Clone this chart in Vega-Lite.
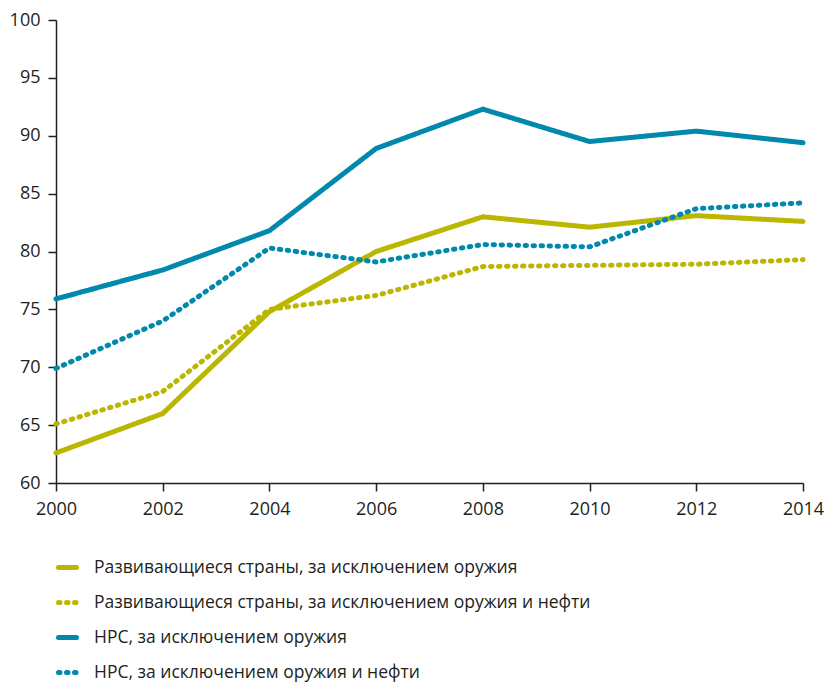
{
  "$schema": "https://vega.github.io/schema/vega-lite/v6.json",
  "autosize": "none",
  "width": 747,
  "height": 463,
  "padding": {"left": 56, "top": 20, "right": 21, "bottom": 199},
  "background": "white",
  "config": {
    "view": {"stroke": null},
    "font": "Open Sans",
    "axis": {"domainColor": "#231f20", "tickColor": "#231f20", "labelColor": "#231f20", "labelFont": "Open Sans", "labelFontSize": 18, "grid": false, "domainWidth": 1.5, "tickWidth": 1.5}
  },
  "data": {
    "values": [
      {"year": 2000, "series": "Развивающиеся страны, за исключением оружия", "value": 62.6},
      {"year": 2002, "series": "Развивающиеся страны, за исключением оружия", "value": 66.0},
      {"year": 2004, "series": "Развивающиеся страны, за исключением оружия", "value": 74.8},
      {"year": 2006, "series": "Развивающиеся страны, за исключением оружия", "value": 80.0},
      {"year": 2008, "series": "Развивающиеся страны, за исключением оружия", "value": 83.0},
      {"year": 2010, "series": "Развивающиеся страны, за исключением оружия", "value": 82.1},
      {"year": 2012, "series": "Развивающиеся страны, за исключением оружия", "value": 83.1},
      {"year": 2014, "series": "Развивающиеся страны, за исключением оружия", "value": 82.6},
      {"year": 2000, "series": "Развивающиеся страны, за исключением оружия и нефти", "value": 65.1},
      {"year": 2002, "series": "Развивающиеся страны, за исключением оружия и нефти", "value": 67.9},
      {"year": 2004, "series": "Развивающиеся страны, за исключением оружия и нефти", "value": 75.0},
      {"year": 2006, "series": "Развивающиеся страны, за исключением оружия и нефти", "value": 76.2},
      {"year": 2008, "series": "Развивающиеся страны, за исключением оружия и нефти", "value": 78.7},
      {"year": 2010, "series": "Развивающиеся страны, за исключением оружия и нефти", "value": 78.8},
      {"year": 2012, "series": "Развивающиеся страны, за исключением оружия и нефти", "value": 78.9},
      {"year": 2014, "series": "Развивающиеся страны, за исключением оружия и нефти", "value": 79.3},
      {"year": 2000, "series": "НРС, за исключением оружия", "value": 75.9},
      {"year": 2002, "series": "НРС, за исключением оружия", "value": 78.4},
      {"year": 2004, "series": "НРС, за исключением оружия", "value": 81.8},
      {"year": 2006, "series": "НРС, за исключением оружия", "value": 88.9},
      {"year": 2008, "series": "НРС, за исключением оружия", "value": 92.3},
      {"year": 2010, "series": "НРС, за исключением оружия", "value": 89.5},
      {"year": 2012, "series": "НРС, за исключением оружия", "value": 90.4},
      {"year": 2014, "series": "НРС, за исключением оружия", "value": 89.4},
      {"year": 2000, "series": "НРС, за исключением оружия и нефти", "value": 69.9},
      {"year": 2002, "series": "НРС, за исключением оружия и нефти", "value": 74.0},
      {"year": 2004, "series": "НРС, за исключением оружия и нефти", "value": 80.3},
      {"year": 2006, "series": "НРС, за исключением оружия и нефти", "value": 79.1},
      {"year": 2008, "series": "НРС, за исключением оружия и нефти", "value": 80.6},
      {"year": 2010, "series": "НРС, за исключением оружия и нефти", "value": 80.4},
      {"year": 2012, "series": "НРС, за исключением оружия и нефти", "value": 83.7},
      {"year": 2014, "series": "НРС, за исключением оружия и нефти", "value": 84.2}
    ]
  },
  "mark": {"type": "line", "strokeWidth": 5, "strokeCap": "round", "strokeJoin": "round"},
  "encoding": {
    "x": {
      "field": "year", "type": "quantitative",
      "scale": {"domain": [2000, 2014], "nice": false, "zero": false},
      "axis": {"title": null, "values": [2000, 2002, 2004, 2006, 2008, 2010, 2012, 2014], "format": "d", "tickSize": 8, "labelPadding": 9, "labelFlush": false, "labelOverlap": false}
    },
    "y": {
      "field": "value", "type": "quantitative",
      "scale": {"domain": [60, 100], "nice": false, "zero": false},
      "axis": {"title": null, "values": [60, 65, 70, 75, 80, 85, 90, 95, 100], "tickSize": 8, "labelPadding": 8}
    },
    "color": {
      "field": "series", "type": "nominal",
      "scale": {
        "domain": ["Развивающиеся страны, за исключением оружия", "Развивающиеся страны, за исключением оружия и нефти", "НРС, за исключением оружия", "НРС, за исключением оружия и нефти"],
        "range": ["#bbb700", "#bbb700", "#0089ad", "#0089ad"]
      },
      "legend": {
        "title": null, "orient": "none", "legendX": 0, "legendY": 536, "direction": "vertical",
        "symbolType": "stroke", "symbolSize": 324, "symbolStrokeWidth": 5,
        "labelFont": "Open Sans", "labelFontSize": 17.5, "labelColor": "#231f20", "labelLimit": 700,
        "labelOffset": 15, "rowPadding": 13,
        "encode": {"symbols": {"update": {"strokeCap": {"value": "round"}}}}
      }
    },
    "strokeDash": {
      "field": "series", "type": "nominal",
      "scale": {
        "domain": ["Развивающиеся страны, за исключением оружия", "Развивающиеся страны, за исключением оружия и нефти", "НРС, за исключением оружия", "НРС, за исключением оружия и нефти"],
        "range": [[1, 0], [1.5, 6.5], [1, 0], [1.5, 6.5]]
      },
      "legend": null
    }
  }
}
